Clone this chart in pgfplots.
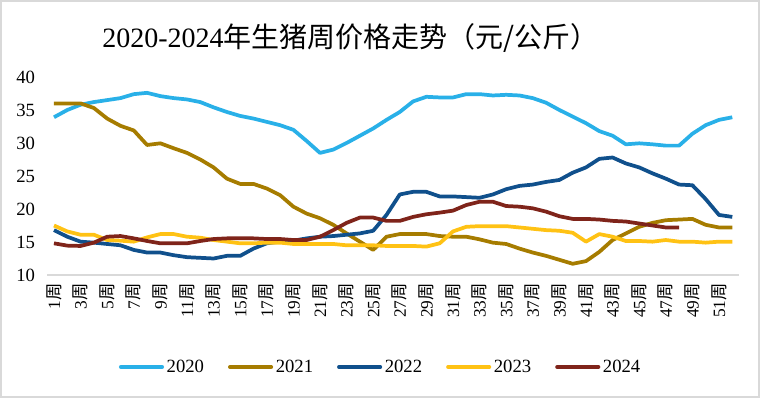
\documentclass[border=0pt]{standalone}
\usepackage{pgfplots}
\pgfplotsset{compat=1.18}
\usepackage{fontspec}
\setmainfont{Liberation Serif}
\newfontfamily\cjk{Noto Sans CJK SC}
\definecolor{c20}{RGB}{41,176,232}
\definecolor{c21}{RGB}{166,124,0}
\definecolor{c22}{RGB}{16,80,140}
\definecolor{c23}{RGB}{255,194,20}
\definecolor{c24}{RGB}{127,36,26}
\definecolor{bord}{RGB}{217,217,217}
\pgfplotstableread{
w y
1 33.9
2 35.0
3 35.8
4 36.2
5 36.5
6 36.8
7 37.4
8 37.6
9 37.1
10 36.8
11 36.6
12 36.2
13 35.4
14 34.7
15 34.1
16 33.7
17 33.2
18 32.7
19 32.0
20 30.3
21 28.5
22 29.0
23 30.0
24 31.1
25 32.2
26 33.5
27 34.7
28 36.3
29 37.0
30 36.9
31 36.9
32 37.4
33 37.4
34 37.2
35 37.3
36 37.2
37 36.8
38 36.1
39 35.0
40 34.0
41 33.0
42 31.8
43 31.1
44 29.8
45 29.95
46 29.8
47 29.6
48 29.6
49 31.4
50 32.7
51 33.5
52 33.9
}\tA
\pgfplotstableread{
w y
1 36.0
2 36.0
3 36.0
4 35.3
5 33.7
6 32.6
7 31.9
8 29.7
9 29.95
10 29.2
11 28.5
12 27.5
13 26.3
14 24.6
15 23.8
16 23.8
17 23.1
18 22.1
19 20.35
20 19.3
21 18.6
22 17.6
23 16.3
24 15.05
25 13.8
26 15.8
27 16.2
28 16.2
29 16.2
30 15.9
31 15.8
32 15.8
33 15.4
34 14.9
35 14.7
36 14.0
37 13.4
38 12.9
39 12.3
40 11.7
41 12.1
42 13.5
43 15.3
44 16.3
45 17.3
46 17.9
47 18.3
48 18.4
49 18.5
50 17.6
51 17.2
52 17.2
}\tB
\pgfplotstableread{
w y
1 16.8
2 15.8
3 15.05
4 14.9
5 14.7
6 14.5
7 13.8
8 13.4
9 13.4
10 13.0
11 12.7
12 12.6
13 12.5
14 12.9
15 12.9
16 14.0
17 14.8
18 15.05
19 15.2
20 15.55
21 15.8
22 15.9
23 16.1
24 16.3
25 16.7
26 19.1
27 22.2
28 22.6
29 22.6
30 21.9
31 21.9
32 21.8
33 21.7
34 22.2
35 23.0
36 23.5
37 23.7
38 24.1
39 24.4
40 25.5
41 26.3
42 27.6
43 27.8
44 26.9
45 26.3
46 25.4
47 24.6
48 23.7
49 23.6
50 21.5
51 19.1
52 18.8
}\tC
\pgfplotstableread{
w y
1 17.5
2 16.6
3 16.1
4 16.1
5 15.3
6 15.2
7 15.05
8 15.7
9 16.2
10 16.2
11 15.8
12 15.65
13 15.3
14 15.05
15 14.8
16 14.8
17 14.9
18 14.9
19 14.7
20 14.7
21 14.7
22 14.7
23 14.5
24 14.5
25 14.5
26 14.4
27 14.4
28 14.4
29 14.3
30 14.8
31 16.6
32 17.3
33 17.4
34 17.4
35 17.4
36 17.2
37 17.0
38 16.8
39 16.7
40 16.4
41 15.05
42 16.2
43 15.8
44 15.15
45 15.15
46 15.05
47 15.3
48 15.05
49 15.05
50 14.9
51 15.05
52 15.05
}\tD
\pgfplotstableread{
w y
1 14.8
2 14.45
3 14.4
4 14.9
5 15.8
6 15.9
7 15.55
8 15.15
9 14.8
10 14.8
11 14.8
12 15.15
13 15.45
14 15.55
15 15.55
16 15.55
17 15.45
18 15.45
19 15.3
20 15.3
21 15.8
22 16.8
23 17.9
24 18.7
25 18.7
26 18.2
27 18.2
28 18.8
29 19.2
30 19.45
31 19.75
32 20.6
33 21.1
34 21.1
35 20.45
36 20.35
37 20.1
38 19.6
39 18.9
40 18.5
41 18.5
42 18.4
43 18.2
44 18.1
45 17.8
46 17.5
47 17.2
48 17.2
}\tE
\begin{document}
\begin{tikzpicture}
\useasboundingbox (0,0) rectangle (570pt,298.5pt);
\draw[bord, line width=1.5pt] (0.75pt,0.75pt) rectangle (569.25pt,297.75pt);
\node[font=\fontsize{21pt}{24pt}\selectfont, anchor=center] at (262.9pt,270pt) {2020-2024{\cjk 年生猪周价格走势（元/公斤）}};
\begin{axis}[
  at={(35.5pt,92.25pt)}, anchor=south west,
  scale only axis, width=518.7pt, height=148.5pt,
  xmin=0.5, xmax=52.5, ymin=10, ymax=40,
  ytick={10,15,...,40},
  xtick={1,3,...,51},
  xticklabels={1{\cjk 周},3{\cjk 周},5{\cjk 周},7{\cjk 周},9{\cjk 周},11{\cjk 周},13{\cjk 周},15{\cjk 周},17{\cjk 周},19{\cjk 周},21{\cjk 周},23{\cjk 周},25{\cjk 周},27{\cjk 周},29{\cjk 周},31{\cjk 周},33{\cjk 周},35{\cjk 周},37{\cjk 周},39{\cjk 周},41{\cjk 周},43{\cjk 周},45{\cjk 周},47{\cjk 周},49{\cjk 周},51{\cjk 周}},
  /pgf/number format/assume math mode=true,
  separate axis lines,
  axis x line*=bottom, axis y line*=left,
  x axis line style={draw=bord, line width=1.5pt},
  y axis line style={draw=none},
  major tick length=0pt,
  yticklabel style={font=\fontsize{14pt}{16pt}\selectfont, inner sep=0pt, anchor=east},
  yticklabel shift=9pt,
  xticklabel style={font=\fontsize{13pt}{15pt}\selectfont, inner sep=0pt, rotate=90, anchor=east},
  xticklabel shift=6pt,
  legend columns=5,
  legend style={draw=none, at={(0.4824,-0.4646)}, anchor=center,
    font=\fontsize{14pt}{16pt}\selectfont,
    /tikz/every even column/.append style={column sep=16pt}},
  legend image code/.code={\draw[#1, line cap=round] (0pt,0pt) -- (31pt,0pt);},
  every axis plot/.append style={line width=2.8pt, line join=round},
]
\addplot[c20] table[x=w,y=y] {\tA};
\addplot[c21] table[x=w,y=y] {\tB};
\addplot[c22] table[x=w,y=y] {\tC};
\addplot[c23] table[x=w,y=y] {\tD};
\addplot[c24] table[x=w,y=y] {\tE};
\legend{2020,2021,2022,2023,2024}
\end{axis}
\end{tikzpicture}
\end{document}
